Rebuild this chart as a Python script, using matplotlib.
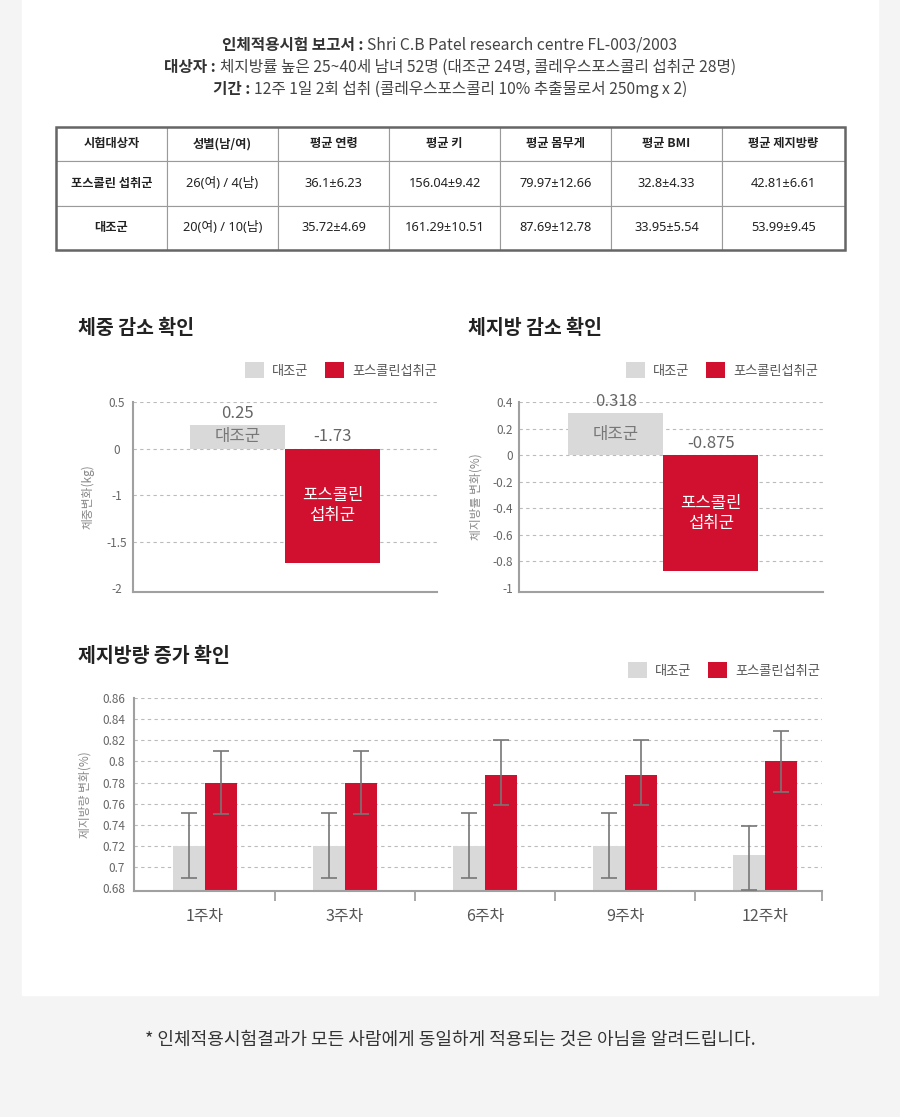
import matplotlib
matplotlib.use('Agg')
import matplotlib.pyplot as plt
import numpy as np
from matplotlib.patches import Rectangle

plt.rcParams['font.family'] = ['Noto Sans CJK KR', 'DejaVu Sans']

# ---- data ----
header_lines = [
    ('인체적용시험 보고서 : ', 'Shri C.B Patel research centre FL-003/2003'),
    ('대상자 : ', '체지방률 높은 25~40세 남녀 52명 (대조군 24명, 콜레우스포스콜리 섭취군 28명)'),
    ('기간 : ', '12주 1일 2회 섭취 (콜레우스포스콜리 10% 추출물로서 250mg x 2)'),
]
table_cols = ['시험대상자', '성별(남/여)', '평균 연령', '평균 키', '평균 몸무게', '평균 BMI', '평균 제지방량']
row_test = ['포스콜린 섭취군', '26(여) / 4(남)', '36.1±6.23', '156.04±9.42', '79.97±12.66', '32.8±4.33', '42.81±6.61']
row_ctrl = ['대조군', '20(여) / 10(남)', '35.72±4.69', '161.29±10.51', '87.69±12.78', '33.95±5.54', '53.99±9.45']

groups = ['대조군', '포스콜린섭취군']
inner_labels = ['대조군', '포스콜린\n섭취군']
weight_change = [0.25, -1.73]
weight_ticks = [0.5, 0, -1, -1.5, -2]
fat_change = [0.318, -0.875]
fat_ticks = [0.4, 0.2, 0, -0.2, -0.4, -0.6, -0.8, -1]

weeks = ['1주차', '3주차', '6주차', '9주차', '12주차']
lean_ctrl = [0.72, 0.72, 0.72, 0.72, 0.712]
lean_ctrl_lo = [0.69, 0.69, 0.69, 0.69, 0.678]
lean_ctrl_hi = [0.751, 0.751, 0.751, 0.751, 0.739]
lean_test = [0.78, 0.78, 0.787, 0.787, 0.80]
lean_test_lo = [0.75, 0.75, 0.759, 0.759, 0.771]
lean_test_hi = [0.81, 0.81, 0.82, 0.82, 0.829]
lean_ticks = [0.68, 0.70, 0.72, 0.74, 0.76, 0.78, 0.80, 0.82, 0.84, 0.86]
lean_tick_labels = ['0.68', '0.7', '0.72', '0.74', '0.76', '0.78', '0.8', '0.82', '0.84', '0.86']

footer = '* 인체적용시험결과가 모든 사람에게 동일하게 적용되는 것은 아님을 알려드립니다.'

GRAY = '#d9d9d9'
RED = '#d0102e'
W, H = 900, 1117
NUM_FONT = ['Noto Sans', 'Noto Sans CJK KR']


def box(l, t, r, b):
    return [l / W, 1 - b / H, (r - l) / W, (b - t) / H]


fig = plt.figure(figsize=(9, 11.17), dpi=100, facecolor='#f4f4f4')
fig.add_artist(Rectangle((22 / W, 1 - 995 / H), 856 / W, 995 / H,
                         transform=fig.transFigure, color='white', zorder=0))

# ---- header text ----
r = fig.canvas.get_renderer()
for i, (bold, rest) in enumerate(header_lines):
    y = 1 - (45 + 22 * i) / H
    t1 = fig.text(0, y, bold, fontsize=11.3, fontweight='bold', color='#333', va='center')
    t2 = fig.text(0, y, rest, fontsize=11.3, color='#444', va='center')
    w1 = t1.get_window_extent(r).width
    w2 = t2.get_window_extent(r).width
    x0 = W / 2 - (w1 + w2) / 2
    t1.set_x(x0 / W)
    t2.set_x((x0 + w1) / W)

# ---- table ----
ax_t = fig.add_axes(box(56, 127, 845, 250))
ax_t.axis('off')
tbl = ax_t.table(cellText=[row_test, row_ctrl], colLabels=table_cols,
                 colWidths=[111, 111, 111, 111, 111, 111, 123],
                 cellLoc='center', bbox=[0, 0, 1, 1])
tbl.auto_set_font_size(False)
for (ri, ci), cell in tbl.get_celld().items():
    cell.set_height(34 if ri == 0 else 44.5)
    cell.set_edgecolor('#9a9a9a')
    cell.set_linewidth(0.8)
    txt = cell.get_text()
    txt.set_color('#222')
    if ri == 0 or ci == 0:
        txt.set_fontsize(8.8)
        txt.set_fontweight('bold')
    else:
        txt.set_fontsize(9.2)
        txt.set_family(NUM_FONT)
ax_t.add_patch(Rectangle((0, 0), 1, 1, transform=ax_t.transAxes, fill=False,
                         ec='#666', lw=1.8, clip_on=False, zorder=5))


# ---- change charts ----
def fwd(v):
    v = np.asarray(v, dtype=float)
    return np.where(v >= 0, 2 * v, np.where(v >= -1, v, -1 + 2 * (v + 1)))


def inv(p):
    p = np.asarray(p, dtype=float)
    return np.where(p >= 0, p / 2, np.where(p >= -1, p, (p + 1) / 2 - 1))


def style_axes(ax):
    for s in ['top', 'right']:
        ax.spines[s].set_visible(False)
    for s in ['left', 'bottom']:
        ax.spines[s].set_color('#a0a0a0')
        ax.spines[s].set_linewidth(1.5)
    ax.yaxis.grid(True, linestyle=(0, (3, 3)), color='#bbbbbb', lw=0.8)
    ax.set_axisbelow(True)
    ax.tick_params(axis='y', length=0, labelsize=8.5, labelcolor='#666')


def add_legend(ax, x_anchor, y_anchor):
    ax.legend(loc='lower right', bbox_to_anchor=(x_anchor, y_anchor), ncol=2,
              frameon=False, fontsize=9.5, labelcolor='#555', handlelength=1.45,
              handleheight=1.45, handletextpad=0.6, columnspacing=1.25,
              borderpad=0, borderaxespad=0)


def change_chart(rect, values, ticks, ylim, xlim, ylabel, label_x,
                 tick_ha, tick_pad, legend_x, scale=None):
    ax = fig.add_axes(box(*rect))
    if scale is not None:
        ax.set_yscale('function', functions=scale)
    colors = [GRAY, RED]
    for i, v in enumerate(values):
        ax.bar(i, v, width=1.0, color=colors[i], label=groups[i], zorder=2)
    ax.set_ylim(*ylim)
    ax.set_xlim(*xlim)
    ax.set_xticks([])
    ax.set_yticks(ticks)
    ax.set_yticklabels([f'{t:g}' for t in ticks])
    style_axes(ax)
    ax.yaxis.get_gridlines()[-1].set_visible(False)
    ax.tick_params(axis='y', pad=tick_pad)
    for lbl in ax.get_yticklabels():
        lbl.set_ha(tick_ha)
    # value labels and inner labels
    for i, v in enumerate(values):
        top = max(v, 0)
        ax.annotate(f'{v:g}', xy=(i, top), xytext=(0, 8.5), textcoords='offset points',
                    ha='center', va='center', fontsize=12, color='#666')
        y0, y1 = ax.transData.transform([(i, 0), (i, v)])[:, 1]
        ymid = ax.transData.inverted().transform((0, (y0 + y1) / 2))[1]
        ax.text(i, ymid, inner_labels[i], ha='center', va='center', fontsize=12,
                color='#777' if i == 0 else 'white', linespacing=1.2, zorder=3)
    ax.set_ylabel(ylabel, fontsize=8.5, color='#888')
    ax.yaxis.set_label_coords(label_x, 0.5)
    ax.yaxis.label.set_va('center')
    add_legend(ax, legend_x, 1 + 24 / 190)
    return ax


ax1 = change_chart((133, 402, 437, 592), weight_change, weight_ticks,
                   (-2.043, 0.5), (-1.1, 2.1), '체중변화(kg)',
                   -0.148, 'center', 11.5, 1.0, scale=(fwd, inv))
ax2 = change_chart((519, 402, 823, 592), fat_change, fat_ticks,
                   (-1.03, 0.4), (-1.02, 2.18), '체지방률 변화(%)',
                   -0.141, 'right', 4.5, 1 - 5 / 304)

for tx, ty, title in [(78, 328, '체중 감소 확인'), (468, 328, '체지방 감소 확인'),
                      (78, 656, '제지방량 증가 확인')]:
    fig.text(tx / W, 1 - ty / H, title, fontsize=14, fontweight='bold',
             color='#222', va='center')

# ---- lean mass chart ----
ax3 = fig.add_axes(box(134, 698, 822, 891))
x = np.arange(len(weeks))
bw = 0.228
ctrl = np.array(lean_ctrl)
test = np.array(lean_test)
ax3.bar(x - bw / 2, ctrl, width=bw, color=GRAY, label=groups[0], zorder=2)
ax3.bar(x + bw / 2, test, width=bw, color=RED, label=groups[1], zorder=2)
err_kw = dict(fmt='none', ecolor='#777', elinewidth=1.2, capsize=5.5, capthick=1.2, zorder=3)
ax3.errorbar(x - bw / 2, ctrl, yerr=[ctrl - np.array(lean_ctrl_lo), np.array(lean_ctrl_hi) - ctrl], **err_kw)
ax3.errorbar(x + bw / 2, test, yerr=[test - np.array(lean_test_lo), np.array(lean_test_hi) - test], **err_kw)
x_right = 4.407
ax3.set_xlim(-0.507, x_right)
ax3.set_ylim(0.6775, 0.86)
ax3.set_yticks(lean_ticks)
ax3.set_yticklabels(lean_tick_labels)
style_axes(ax3)
ax3.yaxis.get_gridlines()[0].set_visible(False)
ax3.tick_params(axis='y', pad=6.5)
ax3.set_xticks(x)
ax3.set_xticklabels(weeks)
ax3.tick_params(axis='x', which='major', length=0, pad=12.5, labelsize=11.5, labelcolor='#555')
ax3.set_xticks(list(x[:-1] + 0.5) + [x_right], minor=True)
ax3.tick_params(axis='x', which='minor', length=7, width=1.3, color='#a0a0a0', direction='out')
ax3.set_ylabel('제지방량 변화(%)', fontsize=8.5, color='#888')
ax3.yaxis.set_label_coords(-0.0712, 0.5)
ax3.yaxis.label.set_va('center')
add_legend(ax3, 1 - 2 / 688, 1 + 20 / 193)

# ---- footer ----
fig.text(0.5, 1 - 1040 / H, footer, fontsize=13, color='#333', ha='center', va='center')

fig.savefig('out.png', dpi=100, facecolor=fig.get_facecolor())
